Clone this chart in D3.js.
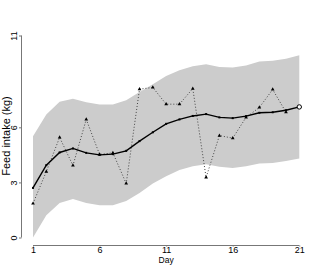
<!DOCTYPE html>
<html><head><meta charset="utf-8">
<script src="https://cdn.jsdelivr.net/npm/d3@7"></script>
<style>body{margin:0;background:#fff}svg{display:block}</style>
</head><body>
<script>
const days = d3.range(1, 22);
const meanVals = [2.70,3.94,4.63,4.85,4.61,4.50,4.54,4.72,5.25,5.73,6.19,6.43,6.62,6.72,6.54,6.50,6.61,6.79,6.82,6.93,7.11];
const obsDays = d3.range(1, 21);
const obsVals = [1.85,3.59,5.45,3.92,6.43,4.52,4.61,2.94,8.08,8.17,7.26,7.26,8.11,3.27,5.55,5.41,6.54,7.08,8.06,6.82];
const upperVals = [5.52,6.70,7.39,7.55,7.37,7.24,7.24,7.48,7.93,8.35,8.79,9.11,9.33,9.44,9.29,9.26,9.37,9.59,9.62,9.73,9.93];
const lowerVals = [0.00,1.21,1.88,2.09,1.88,1.76,1.76,1.99,2.43,2.94,3.34,3.67,3.88,3.99,3.85,3.79,3.88,4.03,4.06,4.17,4.30];
const xTicks = [1,6,11,16,21];
const yTicks = [0,3,6,11];
const xTitle = "Day";
const yTitle = "Feed intake (kg)";

const W = 333, H = 273;
const svg = d3.select("body").append("svg").attr("width", W).attr("height", H);
const x = d3.scaleLinear().domain([1,21]).range([33, 299.3]);
const y = d3.scaleLinear().domain([0,11]).range([237.5, 35.5]);
const font = "'Liberation Sans', Arial, sans-serif";

// band
svg.append("path")
  .datum(days.map((d,i)=>({d, lo: lowerVals[i], hi: upperVals[i]})))
  .attr("fill", "#cccccc")
  .attr("d", d3.area().x(p=>x(p.d)).y0(p=>y(p.lo)).y1(p=>y(p.hi)));

// observed dotted line
const obs = obsDays.map((d,i)=>({d, v: obsVals[i]}));
svg.append("path").datum(obs)
  .attr("fill","none").attr("stroke","#444").attr("stroke-width",1)
  .attr("stroke-dasharray","1,2")
  .attr("d", d3.line().x(p=>x(p.d)).y(p=>y(p.v)));
svg.selectAll(".tri").data(obs).enter().append("path")
  .attr("transform", p=>`translate(${x(p.d)},${y(p.v)})`)
  .attr("d", d3.symbol().type(d3.symbolTriangle).size(6))
  .attr("fill","#000");

// mean solid line
const mean = days.map((d,i)=>({d, v: meanVals[i]}));
svg.append("path").datum(mean)
  .attr("fill","none").attr("stroke","#000").attr("stroke-width",1.4)
  .attr("d", d3.line().x(p=>x(p.d)).y(p=>y(p.v)));
svg.selectAll(".sq").data(mean.slice(0,-1)).enter().append("rect")
  .attr("x", p=>x(p.d)-1).attr("y", p=>y(p.v)-1)
  .attr("width",2).attr("height",2).attr("fill","#000");
const last = mean[mean.length-1];
svg.append("circle").attr("cx", x(last.d)).attr("cy", y(last.v)).attr("r", 2.2)
  .attr("fill","#fff").attr("stroke","#000").attr("stroke-width",1);

// axes
const xAxis = svg.append("g").attr("transform","translate(0,245.5)")
  .call(d3.axisBottom(x).tickValues(xTicks).tickSize(1).tickPadding(0.5).tickFormat(d3.format("d")));
const yAxis = svg.append("g").attr("transform","translate(21.5,0)")
  .call(d3.axisLeft(y).tickValues(yTicks).tickSize(2.5).tickFormat(d3.format("d")));
[xAxis, yAxis].forEach(g=>{
  g.select(".domain").attr("stroke","#777");
  g.selectAll(".tick line").attr("stroke","#777");
  g.selectAll("text").attr("fill","#000").style("font-family",font).style("font-size","9px");
});
xAxis.select(".domain").attr("d", `M${x(1)},0H${x(21)}`);
yAxis.select(".domain").attr("d", `M0,${y(0)}V${y(11)}`);
yAxis.selectAll(".tick text")
  .attr("x", null).attr("dy", null)
  .attr("text-anchor","middle")
  .attr("transform","translate(-7.5,0) rotate(-90)")
  .attr("dominant-baseline","central");

svg.append("text").text(xTitle)
  .attr("x", x(11)).attr("y", 262.5).attr("text-anchor","middle")
  .style("font-family",font).style("font-size","8.5px");
svg.append("text").text(yTitle)
  .attr("transform", `translate(10,136) rotate(-90)`).attr("text-anchor","middle")
  .style("font-family",font).style("font-size","11px");
</script>
</body></html>
